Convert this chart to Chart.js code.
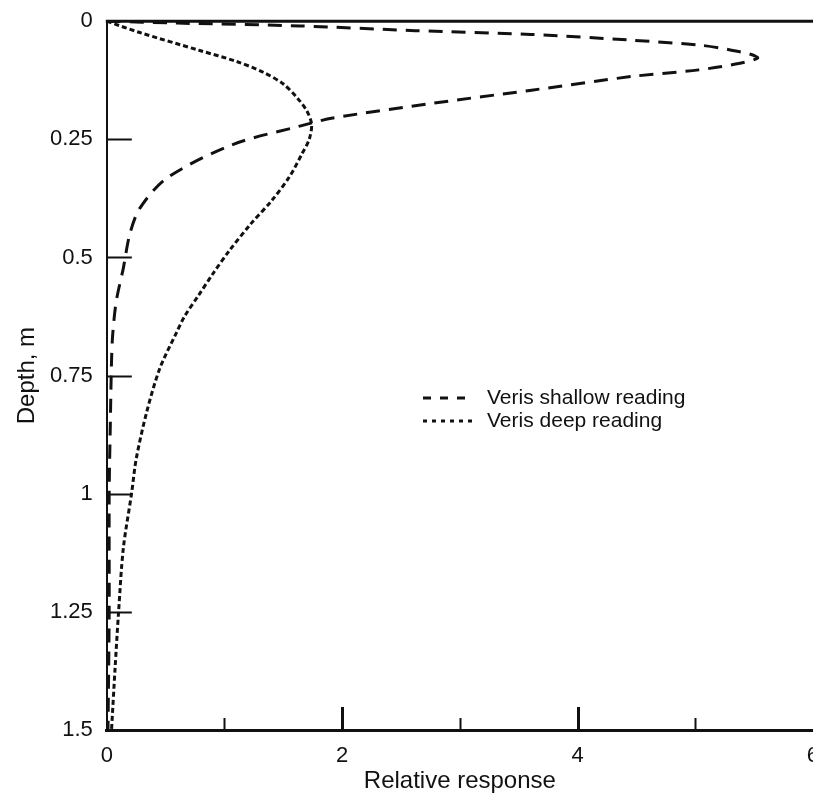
<!DOCTYPE html>
<html>
<head>
<meta charset="utf-8">
<script src="https://cdn.jsdelivr.net/npm/chart.js@4/dist/chart.umd.min.js"></script>
<style>
  html, body { margin: 0; padding: 0; background: #fff; overflow: hidden; }
  #wrap { width: 834px; height: 801px; margin-top: -6px; }
</style>
</head>
<body>
<div id="wrap"><canvas id="depthChart"></canvas></div>
<script>
// response curves, read as (relative response, depth in m)
const shallowResponse = [0, 0.6, 1.64, 2.62, 3.6, 4.45, 5.05, 5.28, 5.47, 5.53, 5.38, 5.03, 4.46, 3.61, 2.76, 1.92, 1.64, 1.07, 0.51, 0.28, 0.195, 0.14, 0.08, 0.05, 0.04, 0.03, 0.02, 0.02, 0.01];
const shallowDepth    = [0, 0.004, 0.01, 0.02, 0.028, 0.04, 0.051, 0.06, 0.07, 0.078, 0.089, 0.103, 0.117, 0.146, 0.174, 0.205, 0.222, 0.261, 0.332, 0.396, 0.451, 0.523, 0.593, 0.663, 0.72, 0.85, 1.0, 1.25, 1.5];

const deepResponse = [0, 0.28, 0.79, 1.1, 1.33, 1.5, 1.62, 1.7, 1.74, 1.72, 1.66, 1.55, 1.4, 1.22, 1.04, 0.9, 0.78, 0.66, 0.59, 0.45, 0.34, 0.25, 0.21, 0.14, 0.10, 0.07, 0.04];
const deepDepth    = [0, 0.024, 0.062, 0.085, 0.108, 0.133, 0.163, 0.19, 0.218, 0.25, 0.28, 0.33, 0.38, 0.43, 0.486, 0.535, 0.58, 0.625, 0.66, 0.735, 0.826, 0.926, 1.0, 1.116, 1.25, 1.37, 1.5];

const seriesLabels = ["Veris shallow reading", "Veris deep reading"];

// axis ticks
const depthTicks = [0, 0.25, 0.5, 0.75, 1, 1.25, 1.5];
const depthTickLabels = ["0", "0.25", "0.5", "0.75", "1", "1.25", "1.5"];
const responseTicks = [0, 1, 2, 3, 4, 5, 6];
const responseTickLabels = ["0", "", "2", "", "4", "", "6"];

const FONT = "'Liberation Sans', Arial, Helvetica, sans-serif";
const INK = "#111";

function toPoints(xs, ys) {
  return xs.map((x, i) => ({ x: x, y: ys[i] }));
}

// inner tick marks, top frame line and the in-plot legend
const frameAndLegend = {
  id: "frameAndLegend",
  afterDraw(chart) {
    const ctx = chart.ctx;
    const area = chart.chartArea;
    const xs = chart.scales.x;
    const ys = chart.scales.y;
    ctx.save();
    ctx.strokeStyle = INK;
    ctx.setLineDash([]);

    // top frame
    ctx.lineWidth = 3;
    ctx.beginPath();
    ctx.moveTo(area.left - 1, area.top);
    ctx.lineTo(area.right + 2, area.top);
    ctx.stroke();

    // depth ticks pointing into the plot
    ctx.lineWidth = 2;
    depthTicks.forEach((v) => {
      if (v === 0 || v === 1.5) return;
      const py = Math.round(ys.getPixelForValue(v)) + 0.5;
      ctx.beginPath();
      ctx.moveTo(area.left, py);
      ctx.lineTo(area.left + 25, py);
      ctx.stroke();
    });

    // response ticks pointing up, long on labelled values
    responseTicks.forEach((v, i) => {
      if (v === 0 || v === 6) return;
      const px = Math.round(xs.getPixelForValue(v)) + 0.5;
      const len = responseTickLabels[i] ? 23 : 12;
      ctx.lineWidth = responseTickLabels[i] ? 3 : 2;
      ctx.beginPath();
      ctx.moveTo(px, area.bottom);
      ctx.lineTo(px, area.bottom - len);
      ctx.stroke();
    });

    // legend
    const lx = 423, ly = 404, gap = 23;
    chart.data.datasets.forEach((ds, i) => {
      const y = ly + i * gap;
      ctx.lineWidth = 3;
      ctx.setLineDash(i === 0 ? [8, 9] : [4, 5]);
      ctx.beginPath();
      ctx.moveTo(lx, y);
      ctx.lineTo(lx + 50, y);
      ctx.stroke();
      ctx.setLineDash([]);
      ctx.fillStyle = INK;
      ctx.font = "21px " + FONT;
      ctx.textBaseline = "middle";
      ctx.textAlign = "left";
      ctx.fillText(ds.label, lx + 64, y);
    });
    ctx.restore();
  },
};

new Chart(document.getElementById("depthChart"), {
  type: "scatter",
  data: {
    datasets: [
      {
        label: seriesLabels[0],
        data: toPoints(shallowResponse, shallowDepth),
        showLine: true,
        borderColor: INK,
        borderWidth: 3,
        borderDash: [14, 9],
        pointRadius: 0,
        tension: 0.3,
      },
      {
        label: seriesLabels[1],
        data: toPoints(deepResponse, deepDepth),
        showLine: true,
        borderColor: INK,
        borderWidth: 3,
        borderDash: [5, 3],
        pointRadius: 0,
        tension: 0.3,
      },
    ],
  },
  options: {
    responsive: true,
    maintainAspectRatio: false,
    animation: false,
    layout: { padding: { top: 3, right: 15, left: 15, bottom: 2 } },
    plugins: {
      legend: { display: false },
      tooltip: { enabled: false },
    },
    scales: {
      x: {
        type: "linear",
        min: 0,
        max: 6,
        afterBuildTicks: (axis) => {
          axis.ticks = responseTicks.map((v) => ({ value: v }));
        },
        ticks: {
          autoSkip: false,
          maxRotation: 0,
          padding: 15,
          color: INK,
          font: { family: FONT, size: 22, lineHeight: 1 },
          callback: (v) => responseTickLabels[responseTicks.indexOf(v)],
        },
        grid: { drawOnChartArea: false, drawTicks: false },
        border: { color: INK, width: 3 },
        title: {
          display: true,
          text: "Relative response",
          color: INK,
          font: { family: FONT, size: 24, lineHeight: 1 },
          padding: { top: -13, bottom: 0 },
        },
      },
      y: {
        type: "linear",
        reverse: true,
        min: 0,
        max: 1.5,
        afterBuildTicks: (axis) => {
          axis.ticks = depthTicks.map((v) => ({ value: v }));
        },
        ticks: {
          autoSkip: false,
          padding: 14,
          color: INK,
          font: { family: FONT, size: 22 },
          callback: (v) => depthTickLabels[depthTicks.indexOf(v)],
        },
        grid: { drawOnChartArea: false, drawTicks: false },
        border: { color: INK, width: 2 },
        title: {
          display: true,
          text: "Depth, m",
          color: INK,
          font: { family: FONT, size: 24, lineHeight: 1 },
          padding: { top: 0, bottom: -3 },
        },
      },
    },
  },
  plugins: [frameAndLegend],
});
</script>
</body>
</html>
